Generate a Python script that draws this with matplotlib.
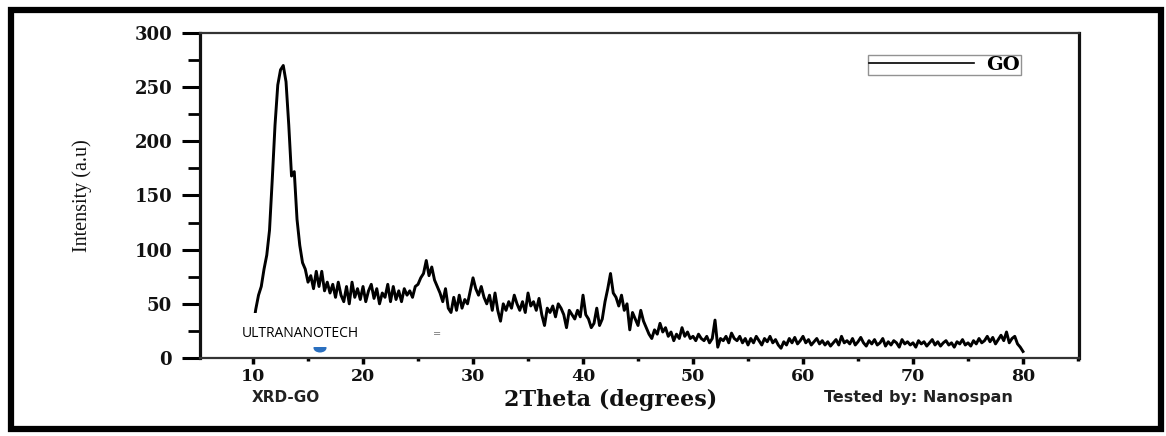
import numpy as np
import matplotlib
matplotlib.use("Agg")
import matplotlib.pyplot as plt
from matplotlib.patches import Rectangle, Ellipse
from matplotlib.ticker import MultipleLocator

# ---------------- data ----------------
two_theta = np.linspace(10.0, 80.0, 281)   # 0.25 degree grid
intensity = [
    28, 45, 58, 66,   82, 95, 118, 165,   215, 252, 266, 270,   255, 215, 168, 172,
    128, 104, 88, 82,   70, 76, 64, 80,   66, 80, 62, 70,   60, 68, 56, 70,
    58, 52, 66, 50,   70, 56, 64, 54,   66, 52, 62, 68,   55, 64, 50, 60,
    56, 68, 52, 66,   54, 62, 52, 64,   58, 62, 56, 66,   68, 74, 78, 90,
    76, 84, 72, 66,   60, 52, 64, 46,   42, 56, 44, 58,   46, 54, 50, 62,
    74, 64, 58, 66,   56, 50, 58, 44,   60, 44, 34, 50,   44, 52, 46, 58,
    50, 44, 52, 42,   60, 48, 52, 44,   55, 40, 30, 46,   42, 48, 38, 50,
    46, 40, 28, 44,   40, 36, 44, 38,   58, 40, 36, 28,   32, 46, 30, 36,
    52, 64, 78, 60,   56, 48, 58, 44,   50, 26, 42, 36,   30, 44, 34, 28,
    22, 18, 26, 22,   32, 24, 28, 20,   24, 16, 22, 18,   28, 20, 24, 18,
    20, 16, 22, 18,   16, 20, 14, 18,   35, 10, 18, 16,   20, 14, 23, 18,
    16, 20, 14, 18,   12, 18, 14, 20,   16, 12, 18, 15,   20, 14, 17, 12,
    9, 15, 12, 18,    14, 19, 13, 16,   20, 14, 17, 12,   15, 18, 13, 16,
    12, 15, 11, 14,   17, 12, 20, 14,   16, 13, 18, 12,   15, 19, 14, 11,
    16, 13, 17, 12,   14, 18, 11, 15,   12, 16, 14, 10,   17, 13, 15, 12,
    14, 10, 16, 13,   15, 11, 14, 17,   12, 15, 11, 14,   16, 12, 14, 10,
    15, 13, 17, 12,   14, 11, 16, 13,   18, 14, 16, 20,   15, 19, 13, 17,
    21, 16, 24, 14,   18, 20, 13, 10,   6,
]
x_ticks = [10, 20, 30, 40, 50, 60, 70, 80]
y_ticks = [0, 50, 100, 150, 200, 250, 300]
series_label = "GO"
x_label = "2Theta (degrees)"
y_label = "Intensity (a.u)"

W, H = 1166, 436
fig = plt.figure(figsize=(W / 100, H / 100), dpi=100)
fig.patch.set_facecolor("white")

def fx(px):
    return px / W

def fy(py):
    return 1 - py / H

ax = fig.add_axes([fx(200), fy(358), fx(1079) - fx(200), fy(33) - fy(358)])
ax.plot(two_theta, intensity, color="black", lw=2.1, label=series_label,
        solid_joinstyle="round")
ax.set_xlim(5.18, 85.09)
ax.set_ylim(0, 300)

ax.set_xticks(x_ticks)
ax.set_yticks(y_ticks)
ax.xaxis.set_minor_locator(MultipleLocator(5))
ax.yaxis.set_minor_locator(MultipleLocator(25))

for lab in ax.get_yticklabels():
    lab.set_fontfamily("DejaVu Serif")
    lab.set_fontweight("bold")
    lab.set_fontsize(13)
    lab.set_color("#111111")
for lab in ax.get_xticklabels():
    lab.set_fontfamily("DejaVu Serif")
    lab.set_fontweight("bold")
    lab.set_fontsize(12.5)
    lab.set_color("#111111")

ax.tick_params(axis="y", which="major", direction="out", length=13, width=2.2, pad=7)
ax.tick_params(axis="y", which="minor", direction="out", length=8.5, width=2.0)
ax.tick_params(axis="x", which="major", direction="out", length=4, width=2.5, pad=3)
ax.tick_params(axis="x", which="minor", direction="out", length=2, width=2.5)

for side in ["left", "right"]:
    ax.spines[side].set_linewidth(2.3)
    ax.spines[side].set_color("#111111")
for side in ["top", "bottom"]:
    ax.spines[side].set_linewidth(1.6)
    ax.spines[side].set_color("#333333")

# legend
leg = ax.legend(loc="upper right", bbox_to_anchor=(fx(1021), fy(55)),
                bbox_transform=fig.transFigure, borderaxespad=0,
                fancybox=False, frameon=True, edgecolor="#777777",
                handlelength=5.4, handletextpad=0.6, borderpad=0.06,
                prop=dict(family="DejaVu Serif", weight="bold", size=14))
leg.get_frame().set_linewidth(1.0)
for h in leg.get_lines():
    h.set_linewidth(1.2)

# axis labels
fig.text(fx(82), fy(196), y_label, rotation=90, ha="center", va="center",
         family="Liberation Serif", fontsize=14.5, color="#111111")
fig.text(fx(611), fy(400), x_label, ha="center", va="center",
         family="DejaVu Serif", weight="bold", fontsize=16, color="#111111")

# footer texts
fig.text(fx(286), fy(397), "XRD-GO", ha="center", va="center",
         family="DejaVu Sans", weight="bold", fontsize=11, color="#222222")
fig.text(fx(918), fy(397), "Tested by: Nanospan", ha="center", va="center",
         family="DejaVu Sans", weight="bold", fontsize=11.5, color="#222222")

# watermark box and small artifacts
fig.patches.append(Ellipse((fx(320), fy(348)), 13 / W, 9 / H, transform=fig.transFigure,
                           facecolor="#2a6fbf", edgecolor="none", zorder=5))
fig.patches.append(Rectangle((fx(220), fy(347)), (433 - 220) / W, (347 - 313) / H,
                             transform=fig.transFigure, facecolor="white",
                             edgecolor="none", zorder=6))
fig.text(fx(242), fy(333), "ULTRANANOTECH", ha="left", va="center",
         family="Open Sans", fontsize=10, color="black", zorder=7)
fig.text(fx(437), fy(334), "=", ha="center", va="center", family="DejaVu Sans",
         fontsize=7, color="#777777", zorder=7)

# outer frame
fig.patches.append(Rectangle((fx(11), fy(429)), (1161 - 11) / W, (429 - 10) / H,
                             transform=fig.transFigure, facecolor="none",
                             edgecolor="black", linewidth=4.5, zorder=10))

fig.savefig("out.png", dpi=100)
